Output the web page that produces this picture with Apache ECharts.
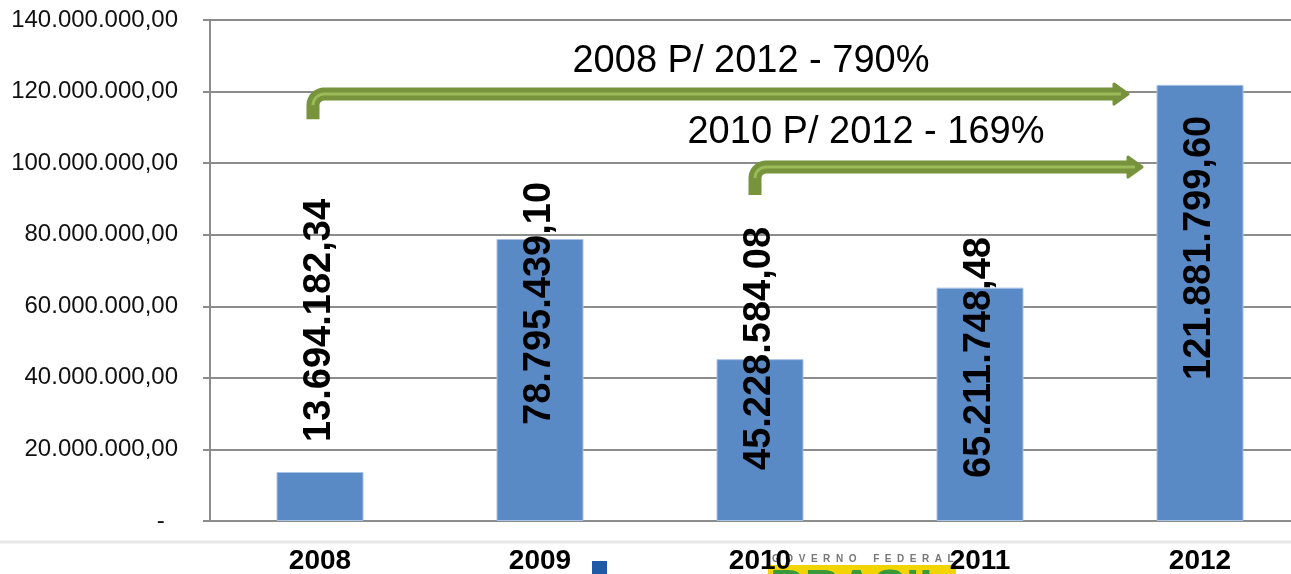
<!DOCTYPE html>
<html lang="pt" style="height: 100%">
<head>
  <meta charset="utf-8">
  <script src="https://cdn.jsdelivr.net/npm/echarts/dist/echarts.min.js"></script>
</head>
<body style="height: 100%; margin: 0; background: #fff">
  <div id="container" style="width: 1291px; height: 574px"></div>

  <script type="text/javascript">
    // dados
    var years = ['2008', '2009', '2010', '2011', '2012'];
    var values = [13694182.34, 78795439.10, 45228584.08, 65211748.48, 121881799.60];
    var yMin = 0, yMax = 140000000, yStep = 20000000;
    var notes = ['2008 P/ 2012 - 790%', '2010 P/ 2012 - 169%'];

    function fmtBR(v) {
      var p = v.toFixed(2).split('.');
      return p[0].replace(/\B(?=(\d{3})+(?!\d))/g, '.') + ',' + p[1];
    }

    var dom = document.getElementById('container');
    var myChart = echarts.init(dom, null, { renderer: 'canvas' });

    // distancia do rotulo a partir da base (px)
    var labelLift = [79, 96, 51, 43, 141];
    var gridColor = '#8c8c8c';
    var dark = '#77933c', light = '#9bbb59';

    var option = {
      animation: false,
      grid: { left: 210, right: -19, top: 20, bottom: 53, outerBoundsMode: 'none' },
      xAxis: {
        type: 'category',
        data: years,
        axisLine: { lineStyle: { color: gridColor, width: 2 } },
        axisTick: { length: 8, lineStyle: { color: gridColor, width: 2 } },
        axisLabel: {
          margin: 26, color: '#000', fontSize: 28, fontWeight: 'bold',
          fontFamily: 'Liberation Sans'
        }
      },
      yAxis: {
        type: 'value',
        min: yMin, max: yMax, interval: yStep,
        axisLine: { show: true, lineStyle: { color: gridColor, width: 2 } },
        axisTick: { show: true, length: 7, lineStyle: { color: gridColor, width: 2 } },
        splitLine: { lineStyle: { color: gridColor, width: 2 } },
        axisLabel: {
          margin: 32, color: '#111', fontSize: 24, fontFamily: 'Liberation Sans',
          formatter: function (v) { return v === 0 ? '-  ' : fmtBR(v); }
        }
      },
      series: [{
        type: 'bar',
        barWidth: 87,
        itemStyle: { color: '#5a8ac6', borderColor: '#a9c3e6', borderWidth: 1 },
        label: {
          show: true,
          position: 'insideBottom',
          distance: 0,
          rotate: 90,
          align: 'left',
          verticalAlign: 'middle',
          color: '#000',
          fontSize: 38,
          fontWeight: 'bold',
          fontFamily: 'Liberation Sans',
          formatter: function (p) { return fmtBR(p.value); }
        },
        data: values.map(function (v, i) {
          return { value: v, label: { offset: [labelLift[i], 0] } };
        })
      }]
    };

    myChart.setOption(option);

    function px(cat, val) {
      return myChart.convertToPixel({ gridIndex: 0 }, [cat, val]);
    }

    function arrow(fromCat, dx0, vBottom, vTop, toCat, dxTip) {
      var a = px(fromCat, vBottom), b = px(fromCat, vTop), c = px(toCat, vTop);
      var x0 = a[0] + dx0, yb = a[1], yh = b[1], xt = c[0] + dxTip;
      var r = 11, pts = [[x0, yb], [x0, yh + r]];
      for (var k = 1; k < 8; k++) {
        var t = Math.PI + (Math.PI / 2) * k / 8;
        pts.push([x0 + r + r * Math.cos(t), yh + r + r * Math.sin(t)]);
      }
      pts.push([x0 + r, yh]);
      var shaft = pts.concat([[xt - 12, yh]]);
      var inner = pts.slice(1).concat([[xt - 8, yh]]);
      return [
        { type: 'polyline', shape: { points: shaft }, style: { stroke: dark, lineWidth: 13, fill: null, lineJoin: 'round' }, z: 5 },
        { type: 'polygon', shape: { points: [[xt - 15, yh - 10], [xt - 1, yh], [xt - 15, yh + 10]] },
          style: { fill: dark, stroke: dark, lineWidth: 3, lineJoin: 'round' }, z: 5 },
        { type: 'polyline', shape: { points: inner }, style: { stroke: light, lineWidth: 3, fill: null, lineJoin: 'round' }, z: 6 }
      ];
    }

    function note(text, x, y) {
      return {
        type: 'text', x: x, y: y, z: 7,
        style: {
          text: text, fill: '#000', font: '38px "Liberation Sans"',
          align: 'center', verticalAlign: 'middle',
          textAlign: 'center', textVerticalAlign: 'middle'
        }
      };
    }

    var graphics = []
      .concat(arrow('2008', -7, 112300000, 119300000, '2012', -71))
      .concat(arrow('2010', -5, 91100000, 98900000, '2012', -57))
      .concat([
        note(notes[0], 751, 62),
        note(notes[1], 866, 133),
        // separador e logo ao fundo
        { type: 'line', shape: { x1: 0, y1: 542, x2: 1291, y2: 542 }, style: { stroke: '#e8e8e8', lineWidth: 3 }, z: -1 },
        { type: 'rect', shape: { x: 592, y: 561, width: 15, height: 13 }, style: { fill: '#1f5aa8' }, z: -1 },
        { type: 'rect', shape: { x: 768, y: 565, width: 188, height: 9 }, style: { fill: '#f2d500' }, z: -1 },
        { type: 'text', x: 770, y: 566, z: -1,
          style: { text: 'BRASIL', fill: '#3a9a3a', font: 'bold 48px "Liberation Sans"', verticalAlign: 'top', textVerticalAlign: 'top' } },
        { type: 'text', x: 772, y: 559, z: -1,
          style: { text: 'G  O  V  E  R  N  O      F  E  D  E  R  A  L', fill: '#777', font: 'bold 10px "Liberation Sans"', verticalAlign: 'middle', textVerticalAlign: 'middle' } }
      ]);

    myChart.setOption({ graphic: graphics });

    window.addEventListener('resize', myChart.resize);
  </script>
</body>
</html>
